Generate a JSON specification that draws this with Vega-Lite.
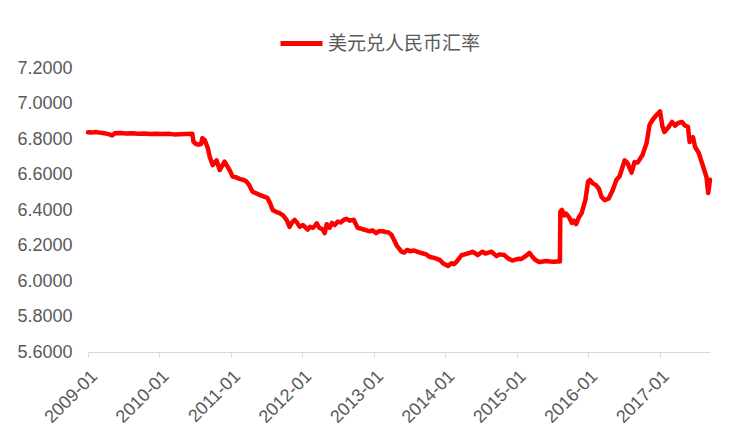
{
  "$schema": "https://vega.github.io/schema/vega-lite/v6.json",
  "autosize": "none",
  "width": 622,
  "height": 284,
  "padding": {"left": 88, "top": 68, "right": 39, "bottom": 90},
  "background": "white",
  "config": {
    "font": "Liberation Sans, Noto Sans CJK SC",
    "view": {"stroke": null}
  },
  "data": {
    "values": [
      {"date": "2009-01-01", "rate": 6.838},
      {"date": "2009-01-20", "rate": 6.836},
      {"date": "2009-02-10", "rate": 6.839},
      {"date": "2009-03-02", "rate": 6.836},
      {"date": "2009-03-25", "rate": 6.833},
      {"date": "2009-04-20", "rate": 6.826},
      {"date": "2009-05-04", "rate": 6.82},
      {"date": "2009-05-18", "rate": 6.832},
      {"date": "2009-06-15", "rate": 6.834},
      {"date": "2009-07-15", "rate": 6.831},
      {"date": "2009-08-14", "rate": 6.833},
      {"date": "2009-09-15", "rate": 6.829},
      {"date": "2009-10-15", "rate": 6.831},
      {"date": "2009-11-16", "rate": 6.828},
      {"date": "2009-12-15", "rate": 6.83},
      {"date": "2010-01-15", "rate": 6.828},
      {"date": "2010-02-15", "rate": 6.829},
      {"date": "2010-03-15", "rate": 6.826},
      {"date": "2010-04-15", "rate": 6.827},
      {"date": "2010-05-14", "rate": 6.828},
      {"date": "2010-06-18", "rate": 6.83},
      {"date": "2010-06-24", "rate": 6.785},
      {"date": "2010-07-06", "rate": 6.772},
      {"date": "2010-07-20", "rate": 6.768},
      {"date": "2010-08-02", "rate": 6.772},
      {"date": "2010-08-09", "rate": 6.805},
      {"date": "2010-08-20", "rate": 6.795},
      {"date": "2010-09-05", "rate": 6.75},
      {"date": "2010-09-15", "rate": 6.70},
      {"date": "2010-09-30", "rate": 6.653},
      {"date": "2010-10-20", "rate": 6.68},
      {"date": "2010-11-05", "rate": 6.625},
      {"date": "2010-11-30", "rate": 6.672},
      {"date": "2010-12-15", "rate": 6.644},
      {"date": "2010-12-28", "rate": 6.62},
      {"date": "2011-01-10", "rate": 6.588},
      {"date": "2011-01-25", "rate": 6.585},
      {"date": "2011-02-15", "rate": 6.575},
      {"date": "2011-03-05", "rate": 6.57},
      {"date": "2011-03-22", "rate": 6.56},
      {"date": "2011-04-05", "rate": 6.54},
      {"date": "2011-04-22", "rate": 6.503},
      {"date": "2011-05-28", "rate": 6.485},
      {"date": "2011-06-20", "rate": 6.475},
      {"date": "2011-07-07", "rate": 6.468},
      {"date": "2011-07-20", "rate": 6.44},
      {"date": "2011-08-03", "rate": 6.40},
      {"date": "2011-08-20", "rate": 6.39},
      {"date": "2011-09-07", "rate": 6.383},
      {"date": "2011-09-25", "rate": 6.37},
      {"date": "2011-10-13", "rate": 6.344},
      {"date": "2011-10-28", "rate": 6.305},
      {"date": "2011-11-10", "rate": 6.33},
      {"date": "2011-11-23", "rate": 6.344},
      {"date": "2011-12-05", "rate": 6.33},
      {"date": "2011-12-19", "rate": 6.305},
      {"date": "2012-01-05", "rate": 6.315},
      {"date": "2012-01-29", "rate": 6.29},
      {"date": "2012-02-10", "rate": 6.305},
      {"date": "2012-02-25", "rate": 6.3},
      {"date": "2012-03-05", "rate": 6.31},
      {"date": "2012-03-15", "rate": 6.325},
      {"date": "2012-03-28", "rate": 6.3},
      {"date": "2012-04-15", "rate": 6.29},
      {"date": "2012-04-25", "rate": 6.27},
      {"date": "2012-05-05", "rate": 6.32},
      {"date": "2012-05-20", "rate": 6.3},
      {"date": "2012-06-01", "rate": 6.327},
      {"date": "2012-06-15", "rate": 6.315},
      {"date": "2012-07-01", "rate": 6.335},
      {"date": "2012-07-15", "rate": 6.33},
      {"date": "2012-08-01", "rate": 6.345},
      {"date": "2012-08-15", "rate": 6.35},
      {"date": "2012-09-01", "rate": 6.34},
      {"date": "2012-09-20", "rate": 6.345},
      {"date": "2012-10-10", "rate": 6.3},
      {"date": "2012-10-25", "rate": 6.296},
      {"date": "2012-11-10", "rate": 6.29},
      {"date": "2012-11-25", "rate": 6.285},
      {"date": "2012-12-10", "rate": 6.28},
      {"date": "2012-12-25", "rate": 6.285},
      {"date": "2013-01-12", "rate": 6.27},
      {"date": "2013-01-25", "rate": 6.28},
      {"date": "2013-02-15", "rate": 6.28},
      {"date": "2013-03-01", "rate": 6.276},
      {"date": "2013-03-15", "rate": 6.275},
      {"date": "2013-04-01", "rate": 6.26},
      {"date": "2013-04-15", "rate": 6.23},
      {"date": "2013-04-28", "rate": 6.2},
      {"date": "2013-05-22", "rate": 6.165},
      {"date": "2013-06-05", "rate": 6.16},
      {"date": "2013-06-20", "rate": 6.175},
      {"date": "2013-07-05", "rate": 6.168},
      {"date": "2013-07-25", "rate": 6.172},
      {"date": "2013-08-10", "rate": 6.165},
      {"date": "2013-08-25", "rate": 6.16},
      {"date": "2013-09-10", "rate": 6.155},
      {"date": "2013-09-25", "rate": 6.15},
      {"date": "2013-10-15", "rate": 6.135},
      {"date": "2013-11-05", "rate": 6.13},
      {"date": "2013-11-20", "rate": 6.125},
      {"date": "2013-12-05", "rate": 6.118},
      {"date": "2013-12-20", "rate": 6.1},
      {"date": "2014-01-05", "rate": 6.09},
      {"date": "2014-01-15", "rate": 6.085},
      {"date": "2014-02-01", "rate": 6.1},
      {"date": "2014-02-15", "rate": 6.095},
      {"date": "2014-03-01", "rate": 6.11},
      {"date": "2014-03-25", "rate": 6.145},
      {"date": "2014-04-10", "rate": 6.15},
      {"date": "2014-04-25", "rate": 6.155},
      {"date": "2014-05-10", "rate": 6.16},
      {"date": "2014-05-20", "rate": 6.165},
      {"date": "2014-06-05", "rate": 6.155},
      {"date": "2014-06-15", "rate": 6.146},
      {"date": "2014-07-10", "rate": 6.165},
      {"date": "2014-07-25", "rate": 6.155},
      {"date": "2014-08-10", "rate": 6.16},
      {"date": "2014-08-25", "rate": 6.165},
      {"date": "2014-09-20", "rate": 6.14},
      {"date": "2014-10-05", "rate": 6.15},
      {"date": "2014-10-30", "rate": 6.146},
      {"date": "2014-11-15", "rate": 6.13},
      {"date": "2014-12-01", "rate": 6.12},
      {"date": "2014-12-10", "rate": 6.115},
      {"date": "2014-12-25", "rate": 6.12},
      {"date": "2015-01-10", "rate": 6.125},
      {"date": "2015-01-25", "rate": 6.124},
      {"date": "2015-02-15", "rate": 6.14},
      {"date": "2015-03-07", "rate": 6.158},
      {"date": "2015-03-20", "rate": 6.14},
      {"date": "2015-04-05", "rate": 6.12},
      {"date": "2015-04-26", "rate": 6.107},
      {"date": "2015-05-15", "rate": 6.11},
      {"date": "2015-06-01", "rate": 6.113},
      {"date": "2015-06-20", "rate": 6.11},
      {"date": "2015-07-10", "rate": 6.108},
      {"date": "2015-07-25", "rate": 6.11},
      {"date": "2015-08-10", "rate": 6.11},
      {"date": "2015-08-12", "rate": 6.39},
      {"date": "2015-08-20", "rate": 6.4},
      {"date": "2015-09-01", "rate": 6.37},
      {"date": "2015-09-10", "rate": 6.38},
      {"date": "2015-09-25", "rate": 6.36},
      {"date": "2015-10-10", "rate": 6.327},
      {"date": "2015-10-20", "rate": 6.34},
      {"date": "2015-11-01", "rate": 6.32},
      {"date": "2015-11-15", "rate": 6.36},
      {"date": "2015-11-28", "rate": 6.38},
      {"date": "2015-12-18", "rate": 6.456},
      {"date": "2016-01-01", "rate": 6.56},
      {"date": "2016-01-10", "rate": 6.57},
      {"date": "2016-01-25", "rate": 6.55},
      {"date": "2016-02-10", "rate": 6.54},
      {"date": "2016-02-25", "rate": 6.52},
      {"date": "2016-03-10", "rate": 6.473},
      {"date": "2016-03-26", "rate": 6.456},
      {"date": "2016-04-15", "rate": 6.465},
      {"date": "2016-05-05", "rate": 6.51},
      {"date": "2016-05-25", "rate": 6.57},
      {"date": "2016-06-10", "rate": 6.59},
      {"date": "2016-07-06", "rate": 6.68},
      {"date": "2016-07-20", "rate": 6.665},
      {"date": "2016-08-10", "rate": 6.61},
      {"date": "2016-08-25", "rate": 6.67},
      {"date": "2016-09-10", "rate": 6.667},
      {"date": "2016-10-05", "rate": 6.71},
      {"date": "2016-10-26", "rate": 6.777},
      {"date": "2016-11-10", "rate": 6.88},
      {"date": "2016-11-25", "rate": 6.907},
      {"date": "2016-12-15", "rate": 6.935},
      {"date": "2017-01-03", "rate": 6.955},
      {"date": "2017-01-15", "rate": 6.87},
      {"date": "2017-01-25", "rate": 6.84},
      {"date": "2017-02-10", "rate": 6.86},
      {"date": "2017-03-05", "rate": 6.896},
      {"date": "2017-03-20", "rate": 6.875},
      {"date": "2017-04-05", "rate": 6.89},
      {"date": "2017-04-25", "rate": 6.896},
      {"date": "2017-05-10", "rate": 6.875},
      {"date": "2017-05-25", "rate": 6.87},
      {"date": "2017-06-03", "rate": 6.783},
      {"date": "2017-06-20", "rate": 6.81},
      {"date": "2017-07-01", "rate": 6.755},
      {"date": "2017-07-20", "rate": 6.72},
      {"date": "2017-08-05", "rate": 6.665},
      {"date": "2017-08-28", "rate": 6.586},
      {"date": "2017-09-06", "rate": 6.496},
      {"date": "2017-09-15", "rate": 6.57}
    ]
  },
  "mark": {"type": "line", "strokeWidth": 4.5, "strokeJoin": "round", "strokeCap": "round"},
  "encoding": {
    "x": {
      "field": "date",
      "type": "temporal",
      "scale": {
        "type": "utc",
        "domain": [
          {"year": 2009, "month": 1, "date": 1, "utc": true},
          {"year": 2017, "month": 9, "date": 15, "utc": true}
        ]
      },
      "axis": {
        "title": null,
        "grid": false,
        "format": "%Y-%m",
        "values": [
          {"year": 2009, "month": 1, "date": 1, "utc": true},
          {"year": 2010, "month": 1, "date": 1, "utc": true},
          {"year": 2011, "month": 1, "date": 1, "utc": true},
          {"year": 2012, "month": 1, "date": 1, "utc": true},
          {"year": 2013, "month": 1, "date": 1, "utc": true},
          {"year": 2014, "month": 1, "date": 1, "utc": true},
          {"year": 2015, "month": 1, "date": 1, "utc": true},
          {"year": 2016, "month": 1, "date": 1, "utc": true},
          {"year": 2017, "month": 1, "date": 1, "utc": true}
        ],
        "labelAngle": -45,
        "labelAlign": "right",
        "labelBaseline": "top",
        "labelPadding": 10,
        "labelFontSize": 18,
        "labelColor": "#595959",
        "labelFlush": false,
        "labelOverlap": false,
        "domainColor": "#d9d9d9",
        "tickColor": "#d9d9d9",
        "tickSize": 5
      }
    },
    "y": {
      "field": "rate",
      "type": "quantitative",
      "scale": {"domain": [5.6, 7.2], "nice": false, "zero": false},
      "axis": {
        "title": null,
        "grid": false,
        "domain": false,
        "ticks": false,
        "values": [5.6, 5.8, 6.0, 6.2, 6.4, 6.6, 6.8, 7.0, 7.2],
        "format": ".4f",
        "labelFontSize": 18,
        "labelColor": "#595959",
        "labelPadding": 16
      }
    },
    "color": {
      "datum": "美元兑人民币汇率",
      "type": "nominal",
      "scale": {"range": ["#ff0000"]},
      "legend": {
        "title": null,
        "orient": "none",
        "legendX": 190,
        "legendY": -48,
        "symbolType": "stroke",
        "symbolSize": 1764,
        "symbolStrokeWidth": 5,
        "labelFontSize": 19,
        "labelColor": "#595959",
        "labelOffset": 3
      }
    }
  }
}
